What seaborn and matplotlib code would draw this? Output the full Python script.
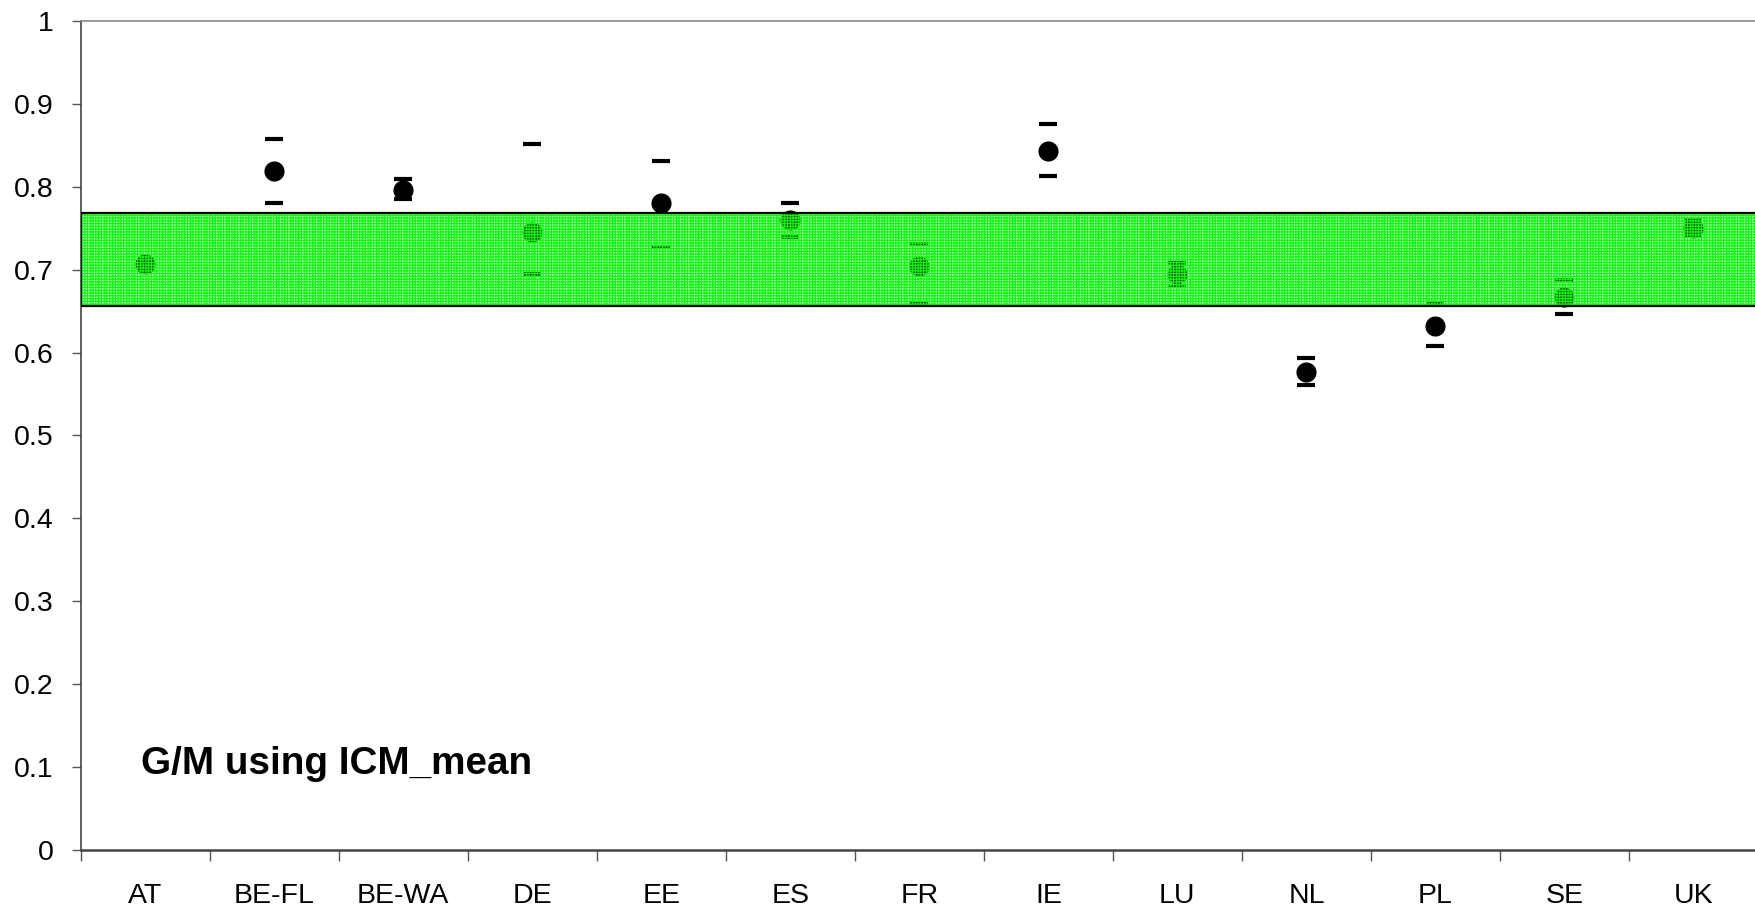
import numpy as np
import pandas as pd
import matplotlib
matplotlib.use("Agg")
import matplotlib.pyplot as plt
from matplotlib.patches import Rectangle
import seaborn as sns

# Country codes along the x axis
countries = ["AT", "BE-FL", "BE-WA", "DE", "EE", "ES", "FR", "IE", "LU", "NL", "PL", "SE", "UK"]
# G/M ratio estimate per country
gm_value = [0.707, 0.819, 0.796, 0.745, 0.781, 0.760, 0.704, 0.843, 0.695, 0.576, 0.632, 0.667, 0.751]
# Interval bounds
gm_upper = [0.709, 0.858, 0.809, 0.852, 0.831, 0.781, 0.731, 0.876, 0.708, 0.594, 0.660, 0.688, 0.760]
gm_lower = [0.705, 0.781, 0.785, 0.695, 0.727, 0.739, 0.660, 0.813, 0.680, 0.561, 0.608, 0.647, 0.742]
# Reference band
band_low, band_high = 0.656, 0.769
y_ticks = [0, 0.1, 0.2, 0.3, 0.4, 0.5, 0.6, 0.7, 0.8, 0.9, 1]
y_tick_labels = ["0", "0.1", "0.2", "0.3", "0.4", "0.5", "0.6", "0.7", "0.8", "0.9", "1"]
panel_label = "G/M using ICM_mean"

sns.set_style("white")
plt.rcParams["font.family"] = ["Liberation Sans", "DejaVu Sans"]
plt.rcParams["text.color"] = "black"
plt.rcParams["xtick.color"] = "black"
plt.rcParams["ytick.color"] = "black"
plt.rcParams["hatch.linewidth"] = 0.8

df = pd.DataFrame({"country": countries, "value": gm_value,
                   "upper": gm_upper, "lower": gm_lower})

fig = plt.figure(figsize=(17.55, 9.11), dpi=100)
W, H = 1755, 911
left_px, right_px, top_px, bottom_px = 80.6, 1758, 21.3, 849.5
ax = fig.add_axes([left_px / W, (H - bottom_px) / H,
                   (right_px - left_px) / W, (bottom_px - top_px) / H])

sns.scatterplot(data=df, x="country", y="value", ax=ax, color="black",
                marker="o", s=210, linewidth=0, zorder=2, legend=False)
for col in ["upper", "lower"]:
    sns.scatterplot(data=df, x="country", y=col, ax=ax, color="black",
                    marker="_", s=150, linewidth=3.0, zorder=2, legend=False)

n = len(countries)
# Band: fine green grid fill over a light tint, then a black outline
band_kw = dict(xy=(-0.5, band_low), width=n, height=band_high - band_low,
               transform=ax.transData)
ax.add_patch(Rectangle(facecolor=(0.0, 1.0, 0.0, 0.25), edgecolor=(0.0, 1.0, 0.0),
                       linewidth=0, hatch="++++++", zorder=3, **band_kw))
ax.add_patch(Rectangle(facecolor="none", edgecolor="black",
                       linewidth=1.6, zorder=3.1, **band_kw))

ax.set_xlim(-0.5, n - 0.5)
ax.set_ylim(0, 1)
ax.set_xlabel("")
ax.set_ylabel("")

# Category boundaries carry the tick marks, centres carry the labels
ax.set_xticks(np.arange(-0.5, n, 1.0))
ax.set_xticklabels([])
ax.set_xticks(np.arange(n), minor=True)
ax.set_xticklabels(countries, minor=True)
ax.tick_params(axis="x", which="major", direction="out", length=8,
               width=1, color="#555555", bottom=True)
ax.tick_params(axis="x", which="minor", length=0, pad=24, labelsize=20.5,
               labelcolor="black")

ax.set_yticks(y_ticks)
ax.set_yticklabels(y_tick_labels)
ax.tick_params(axis="y", direction="out", length=6.5, width=1,
               color="#555555", left=True, pad=13, labelsize=20.5,
               labelcolor="black")

for side in ["left", "bottom", "top", "right"]:
    ax.spines[side].set_visible(True)
ax.spines["left"].set_color("#444444")
ax.spines["left"].set_linewidth(1.2)
ax.spines["bottom"].set_color("#444444")
ax.spines["bottom"].set_linewidth(1.8)
ax.spines["top"].set_color("#888888")
ax.spines["top"].set_linewidth(1.2)
ax.spines["right"].set_color("#888888")

ax.text(-0.03, 0.091, panel_label, fontsize=27.8, fontweight="bold",
        color="black", ha="left", va="baseline", zorder=4)

fig.savefig("out.png", dpi=100)
